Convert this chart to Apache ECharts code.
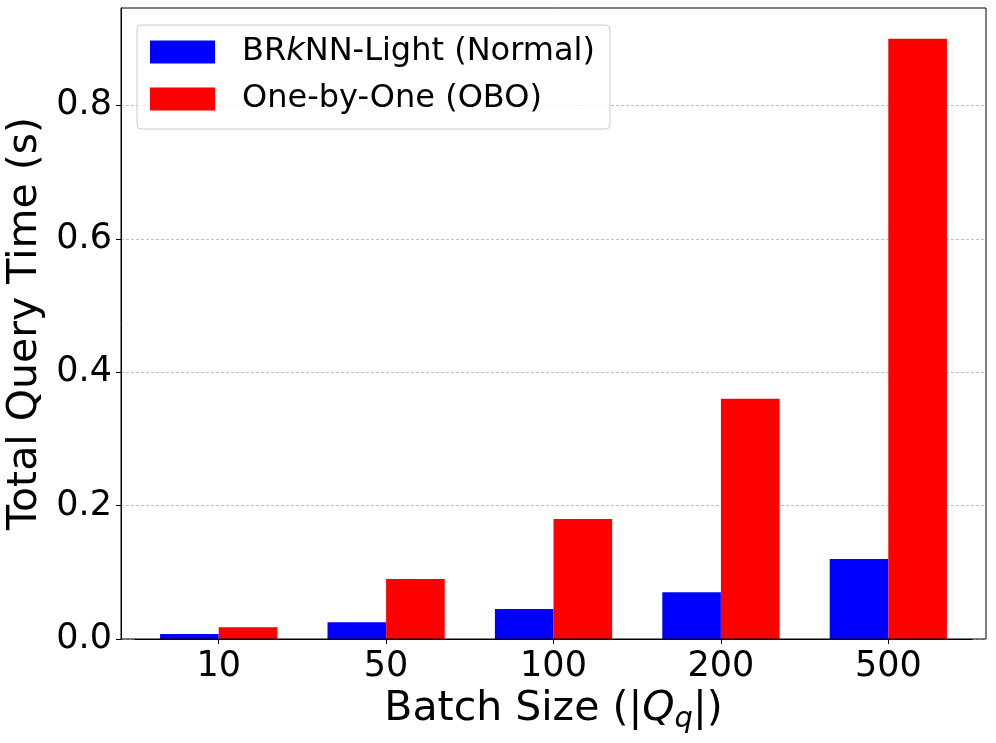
<!DOCTYPE html>
<html>
<head>
<meta charset="utf-8">
<script src="https://cdn.jsdelivr.net/npm/echarts@6/dist/echarts.min.js"></script>
<style>html,body{margin:0;padding:0;background:#fff;}#c{width:996px;height:743px;}</style>
</head>
<body>
<div id="c"></div>
<script>
const categories = ['10', '50', '100', '200', '500'];
const brknnLight = [0.0075, 0.025, 0.045, 0.07, 0.12];
const oneByOne = [0.0175, 0.09, 0.18, 0.36, 0.90];
const yTicks = [0, 0.2, 0.4, 0.6, 0.8];
const seriesNames = ['BRkNN-Light (Normal)', 'One-by-One (OBO)'];

const FONT = 'DejaVu Sans';
const chart = echarts.init(document.getElementById('c'), null, {renderer: 'canvas'});
chart.setOption({
  animation: false,
  backgroundColor: '#fff',
  textStyle: {fontFamily: FONT},
  grid: [
    {left: 121, right: 10, top: 8, bottom: 104, show: true, borderColor: '#000', borderWidth: 1, backgroundColor: 'transparent', z: 10, containLabel: false, outerBoundsMode: 'none'},
    {left: 135, right: 24, top: 8, bottom: 104, containLabel: false, outerBoundsMode: 'none'}
  ],
  legend: {
    orient: 'vertical', left: 137, top: 25,
    padding: [11, 15, 14, 13], itemGap: 15,
    itemWidth: 65, itemHeight: 23, icon: 'rect',
    backgroundColor: 'rgba(255,255,255,0.8)', borderColor: '#cccccc', borderWidth: 1, borderRadius: 4,
    data: seriesNames,
    formatter: function (name) {
      if (name === seriesNames[0]) return '{n|BR}{i|k}{n|NN-Light (Normal)}';
      return '{n|' + name + '}';
    },
    textStyle: {
      fontFamily: FONT, fontSize: 32, color: '#000', lineHeight: 32, padding: [0, 0, 0, 22],
      rich: {
        n: {fontFamily: FONT, fontSize: 32, color: '#000'},
        i: {fontFamily: FONT, fontSize: 32, color: '#000', fontStyle: 'italic'}
      }
    }
  },
  xAxis: [
    {type: 'value', gridIndex: 0, min: 0, max: 1, show: false},
    {
      type: 'category', gridIndex: 1, data: categories,
      axisLine: {show: true, lineStyle: {color: '#000', width: 1}},
      axisTick: {show: true, alignWithLabel: true, length: 5, lineStyle: {color: '#000'}},
      axisLabel: {fontFamily: FONT, fontSize: 35, color: '#000', margin: 10},
      name: '{n|Batch Size (|}{i|Q}{s|q}{n||)}',
      nameLocation: 'middle', nameGap: 38,
      nameTextStyle: {
        rich: {
          n: {fontFamily: FONT, fontSize: 41, color: '#000', lineHeight: 48},
          i: {fontFamily: FONT, fontSize: 41, color: '#000', fontStyle: 'italic', lineHeight: 48},
          s: {fontFamily: FONT, fontSize: 29, color: '#000', fontStyle: 'italic', padding: [20, 0, 0, 0]}
        }
      }
    }
  ],
  yAxis: [
    {
      type: 'value', gridIndex: 0, min: 0, max: 0.946, interval: 0.2,
      axisLine: {show: true, lineStyle: {color: '#000', width: 1}},
      axisTick: {show: true, inside: false, length: 5, lineStyle: {color: '#000'}, customValues: yTicks},
      axisLabel: {fontFamily: FONT, fontSize: 35, color: '#000', margin: 9, customValues: yTicks,
        formatter: v => v.toFixed(1)},
      splitLine: {show: true, lineStyle: {color: '#b0b0b0', type: [3, 2], width: 0.8}},
      name: 'Total Query Time (s)', nameLocation: 'middle', nameRotate: 90, nameGap: 70,
      nameTextStyle: {fontFamily: FONT, fontSize: 41, color: '#000'}
    },
    {type: 'value', gridIndex: 1, min: 0, max: 0.946, show: false, splitLine: {show: false}}
  ],
  series: [
    {name: seriesNames[0], type: 'bar', xAxisIndex: 1, yAxisIndex: 1, data: brknnLight,
      barWidth: 58.6, barGap: '0%', itemStyle: {color: '#0000ff'}},
    {name: seriesNames[1], type: 'bar', xAxisIndex: 1, yAxisIndex: 1, data: oneByOne,
      barWidth: 58.6, barGap: '0%', itemStyle: {color: '#ff0000'}}
  ]
});
</script>
</body>
</html>
